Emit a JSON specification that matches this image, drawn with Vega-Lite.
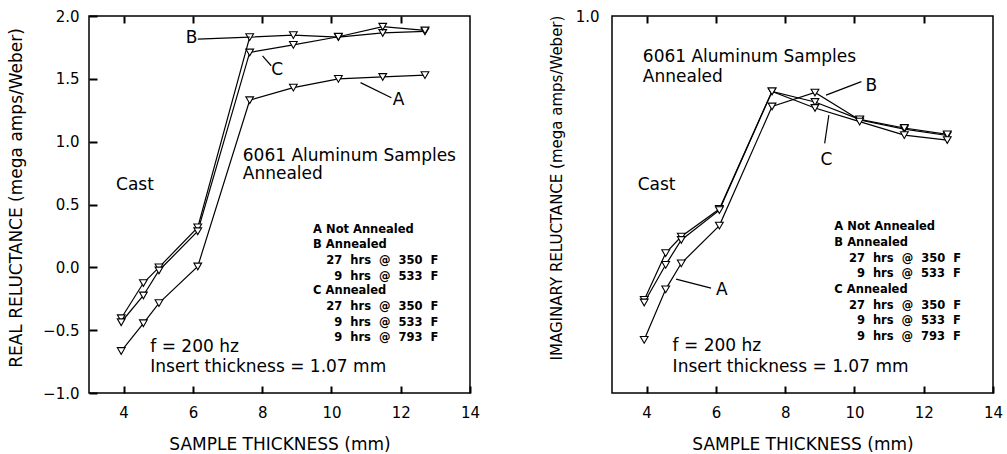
{
  "$schema": "https://vega.github.io/schema/vega-lite/v6.json",
  "background": "white",
  "padding": {"left": 6, "top": 8, "right": 5, "bottom": 0},
  "bounds": "flush",
  "spacing": 142,
  "config": {
    "font": "DejaVu Sans",
    "view": {"stroke": "black", "strokeWidth": 1.5},
    "axis": {
      "labelFont": "DejaVu Sans", "titleFont": "DejaVu Sans",
      "labelFontSize": 15, "titleFontSize": 17, "titleFontWeight": "normal",
      "labelColor": "black", "titleColor": "black",
      "grid": false, "domain": false,
      "labelFlush": false, "labelOverlap": false
    }
  },
  "datasets": {
    "real": [
      {"s": "A", "x": 3.93, "y": -0.666}, {"s": "A", "x": 4.57, "y": -0.445}, {"s": "A", "x": 5.02, "y": -0.285}, {"s": "A", "x": 6.14, "y": 0.007}, {"s": "A", "x": 7.64, "y": 1.33}, {"s": "A", "x": 8.9, "y": 1.43}, {"s": "A", "x": 10.2, "y": 1.5}, {"s": "A", "x": 11.48, "y": 1.515}, {"s": "A", "x": 12.7, "y": 1.53},
      {"s": "B", "x": 3.93, "y": -0.405}, {"s": "B", "x": 4.57, "y": -0.125}, {"s": "B", "x": 5.02, "y": 0.0}, {"s": "B", "x": 6.14, "y": 0.318}, {"s": "B", "x": 7.64, "y": 1.832}, {"s": "B", "x": 8.9, "y": 1.848}, {"s": "B", "x": 10.2, "y": 1.832}, {"s": "B", "x": 11.48, "y": 1.865}, {"s": "B", "x": 12.7, "y": 1.878},
      {"s": "C", "x": 3.93, "y": -0.437}, {"s": "C", "x": 4.57, "y": -0.224}, {"s": "C", "x": 5.02, "y": -0.025}, {"s": "C", "x": 6.14, "y": 0.287}, {"s": "C", "x": 7.64, "y": 1.71}, {"s": "C", "x": 8.9, "y": 1.77}, {"s": "C", "x": 10.2, "y": 1.835}, {"s": "C", "x": 11.48, "y": 1.915}, {"s": "C", "x": 12.7, "y": 1.885}
    ],
    "imag": [
      {"s": "A", "x": 3.93, "y": 0.141}, {"s": "A", "x": 4.55, "y": 0.275}, {"s": "A", "x": 5.0, "y": 0.344}, {"s": "A", "x": 6.1, "y": 0.444}, {"s": "A", "x": 7.62, "y": 0.76}, {"s": "A", "x": 8.86, "y": 0.797}, {"s": "A", "x": 10.15, "y": 0.724}, {"s": "A", "x": 11.44, "y": 0.7}, {"s": "A", "x": 12.68, "y": 0.683},
      {"s": "B", "x": 3.93, "y": 0.247}, {"s": "B", "x": 4.55, "y": 0.371}, {"s": "B", "x": 5.0, "y": 0.415}, {"s": "B", "x": 6.1, "y": 0.488}, {"s": "B", "x": 7.62, "y": 0.8}, {"s": "B", "x": 8.86, "y": 0.772}, {"s": "B", "x": 10.15, "y": 0.726}, {"s": "B", "x": 11.44, "y": 0.703}, {"s": "B", "x": 12.68, "y": 0.686},
      {"s": "C", "x": 3.93, "y": 0.24}, {"s": "C", "x": 4.55, "y": 0.34}, {"s": "C", "x": 5.0, "y": 0.406}, {"s": "C", "x": 6.1, "y": 0.485}, {"s": "C", "x": 7.62, "y": 0.8}, {"s": "C", "x": 8.86, "y": 0.756}, {"s": "C", "x": 10.15, "y": 0.72}, {"s": "C", "x": 11.44, "y": 0.684}, {"s": "C", "x": 12.68, "y": 0.671}
    ],
    "realLeaders": [
      {"id": "B", "x": 6.14, "y": 1.816}, {"id": "B", "x": 7.64, "y": 1.832},
      {"id": "C", "x": 8.01, "y": 1.683}, {"id": "C", "x": 8.26, "y": 1.604},
      {"id": "A", "x": 10.84, "y": 1.47}, {"id": "A", "x": 11.73, "y": 1.35}
    ],
    "imagLeaders": [
      {"id": "B", "x": 9.18, "y": 0.79}, {"id": "B", "x": 10.2, "y": 0.826},
      {"id": "C", "x": 9.26, "y": 0.737}, {"id": "C", "x": 9.14, "y": 0.662},
      {"id": "A", "x": 4.85, "y": 0.302}, {"id": "A", "x": 5.86, "y": 0.278}
    ],
    "realNotes": [
      {"x": 7.44, "y": 0.885, "t": "6061 Aluminum Samples"},
      {"x": 7.44, "y": 0.74, "t": "Annealed"},
      {"x": 3.78, "y": 0.654, "t": "Cast"},
      {"x": 4.77, "y": -0.63, "t": "f = 200 hz"},
      {"x": 4.77, "y": -0.796, "t": "Insert thickness = 1.07 mm"}
    ],
    "imagNotes": [
      {"x": 3.89, "y": 0.89, "t": "6061 Aluminum Samples"},
      {"x": 3.89, "y": 0.839, "t": "Annealed"},
      {"x": 3.74, "y": 0.552, "t": "Cast"},
      {"x": 4.75, "y": 0.1255, "t": "f = 200 hz"},
      {"x": 4.75, "y": 0.07, "t": "Insert thickness = 1.07 mm"}
    ],
    "realLetters": [
      {"x": 5.96, "y": 1.823, "t": "B"},
      {"x": 8.43, "y": 1.569, "t": "C"},
      {"x": 11.94, "y": 1.33, "t": "A"}
    ],
    "imagLetters": [
      {"x": 10.49, "y": 0.814, "t": "B"},
      {"x": 9.19, "y": 0.617, "t": "C"},
      {"x": 6.17, "y": 0.274, "t": "A"}
    ],
    "realLegend": [
      {"x": 9.47, "y": 0.3, "t": "A Not Annealed"},
      {"x": 9.47, "y": 0.175, "t": "B Annealed"},
      {"x": 9.85, "y": 0.053, "t": "27\u00a0 hrs\u00a0 @\u00a0 350\u00a0 F"},
      {"x": 10.08, "y": -0.073, "t": "9\u00a0 hrs\u00a0 @\u00a0 533\u00a0 F"},
      {"x": 9.47, "y": -0.19, "t": "C Annealed"},
      {"x": 9.85, "y": -0.317, "t": "27\u00a0 hrs\u00a0 @\u00a0 350\u00a0 F"},
      {"x": 10.08, "y": -0.44, "t": "9\u00a0 hrs\u00a0 @\u00a0 533\u00a0 F"},
      {"x": 10.08, "y": -0.565, "t": "9\u00a0 hrs\u00a0 @\u00a0 793\u00a0 F"}
    ],
    "imagLegend": [
      {"x": 9.42, "y": 0.44, "t": "A Not Annealed"},
      {"x": 9.42, "y": 0.397, "t": "B Annealed"},
      {"x": 9.84, "y": 0.355, "t": "27\u00a0 hrs\u00a0 @\u00a0 350\u00a0 F"},
      {"x": 10.07, "y": 0.315, "t": "9\u00a0 hrs\u00a0 @\u00a0 533\u00a0 F"},
      {"x": 9.42, "y": 0.273, "t": "C Annealed"},
      {"x": 9.84, "y": 0.232, "t": "27\u00a0 hrs\u00a0 @\u00a0 350\u00a0 F"},
      {"x": 10.07, "y": 0.191, "t": "9\u00a0 hrs\u00a0 @\u00a0 533\u00a0 F"},
      {"x": 10.07, "y": 0.149, "t": "9\u00a0 hrs\u00a0 @\u00a0 793\u00a0 F"}
    ]
  },
  "hconcat": [
    {
      "width": 381,
      "height": 377,
      "resolve": {"axis": {"x": "independent", "y": "independent"}},
      "layer": [
        {
          "data": {"name": "real"},
          "mark": {"type": "line", "color": "black", "strokeWidth": 1.2},
          "encoding": {
            "x": {"field": "x", "type": "quantitative", "scale": {"domain": [3, 14], "nice": false, "zero": false},
              "axis": {"orient": "bottom", "values": [4, 6, 8, 10, 12, 14], "offset": -7, "ticks": true, "tickSize": 7, "tickWidth": 2, "tickColor": "black", "labelPadding": 12.5,
                "title": "SAMPLE THICKNESS (mm)", "titleY": 58, "titleBaseline": "middle"}},
            "y": {"field": "y", "type": "quantitative", "scale": {"domain": [-1, 2], "nice": false, "zero": false},
              "axis": {"values": [-1, -0.5, 0, 0.5, 1, 1.5, 2], "format": ".1f", "offset": -8, "ticks": true, "tickSize": 8, "tickWidth": 2, "tickColor": "black", "labelPadding": 10,
                "title": "REAL RELUCTANCE (mega amps/Weber)", "titleX": -81, "titleY": 181.5, "titleBaseline": "middle"}},
            "detail": {"field": "s"}
          }
        },
        {
          "data": {"name": "real"},
          "mark": {"type": "point", "shape": "triangle-down", "filled": true, "fill": "white", "stroke": "black", "strokeWidth": 1.1, "size": 60, "opacity": 1},
          "encoding": {
            "x": {"field": "x", "type": "quantitative", "scale": {"domain": [3, 14], "nice": false, "zero": false},
              "axis": {"orient": "top", "values": [4, 6, 8, 10, 12], "offset": -7, "ticks": true, "tickSize": 7, "tickWidth": 2, "tickColor": "black", "labels": false, "title": null}},
            "y": {"field": "y", "type": "quantitative", "scale": {"domain": [-1, 2], "nice": false, "zero": false}, "axis": null}
          }
        },
        {
          "data": {"name": "realLeaders"},
          "mark": {"type": "line", "color": "black", "strokeWidth": 1.2},
          "encoding": {
            "x": {"field": "x", "type": "quantitative", "scale": {"domain": [3, 14], "nice": false, "zero": false}, "axis": null},
            "y": {"field": "y", "type": "quantitative", "scale": {"domain": [-1, 2], "nice": false, "zero": false}, "axis": null},
            "detail": {"field": "id"}
          }
        },
        {
          "data": {"name": "realNotes"},
          "mark": {"type": "text", "align": "left", "baseline": "middle", "fontSize": 17, "font": "DejaVu Sans", "color": "black"},
          "encoding": {
            "x": {"field": "x", "type": "quantitative", "scale": {"domain": [3, 14], "nice": false, "zero": false}, "axis": null},
            "y": {"field": "y", "type": "quantitative", "scale": {"domain": [-1, 2], "nice": false, "zero": false}, "axis": null},
            "text": {"field": "t"}
          }
        },
        {
          "data": {"name": "realLetters"},
          "mark": {"type": "text", "align": "center", "baseline": "middle", "fontSize": 17, "font": "DejaVu Sans", "color": "black"},
          "encoding": {
            "x": {"field": "x", "type": "quantitative", "scale": {"domain": [3, 14], "nice": false, "zero": false}, "axis": null},
            "y": {"field": "y", "type": "quantitative", "scale": {"domain": [-1, 2], "nice": false, "zero": false}, "axis": null},
            "text": {"field": "t"}
          }
        },
        {
          "data": {"name": "realLegend"},
          "mark": {"type": "text", "align": "left", "baseline": "middle", "fontSize": 11.5, "fontWeight": "bold", "font": "DejaVu Sans", "color": "black"},
          "encoding": {
            "x": {"field": "x", "type": "quantitative", "scale": {"domain": [3, 14], "nice": false, "zero": false}, "axis": null},
            "y": {"field": "y", "type": "quantitative", "scale": {"domain": [-1, 2], "nice": false, "zero": false}, "axis": null},
            "text": {"field": "t"}
          }
        }
      ]
    },
    {
      "width": 381,
      "height": 377,
      "resolve": {"axis": {"x": "independent", "y": "independent"}},
      "layer": [
        {
          "data": {"name": "imag"},
          "mark": {"type": "line", "color": "black", "strokeWidth": 1.2},
          "encoding": {
            "x": {"field": "x", "type": "quantitative", "scale": {"domain": [3, 14], "nice": false, "zero": false},
              "axis": {"orient": "bottom", "values": [4, 6, 8, 10, 12, 14], "offset": -7, "ticks": true, "tickSize": 7, "tickWidth": 2, "tickColor": "black", "labelPadding": 12.5,
                "title": "SAMPLE THICKNESS (mm)", "titleY": 58, "titleBaseline": "middle"}},
            "y": {"field": "y", "type": "quantitative", "scale": {"domain": [0, 1], "nice": false, "zero": false},
              "axis": {"values": [1], "format": ".1f", "ticks": false, "labelPadding": 13, "titleFontSize": 15,
                "title": "IMAGINARY RELUCTANCE (mega amps/Weber)", "titleX": -56, "titleY": 171.5, "titleBaseline": "middle"}},
            "detail": {"field": "s"}
          }
        },
        {
          "data": {"name": "imag"},
          "mark": {"type": "point", "shape": "triangle-down", "filled": true, "fill": "white", "stroke": "black", "strokeWidth": 1.1, "size": 60, "opacity": 1},
          "encoding": {
            "x": {"field": "x", "type": "quantitative", "scale": {"domain": [3, 14], "nice": false, "zero": false},
              "axis": {"orient": "top", "values": [4, 6, 8, 10, 12], "offset": -7, "ticks": true, "tickSize": 7, "tickWidth": 2, "tickColor": "black", "labels": false, "title": null}},
            "y": {"field": "y", "type": "quantitative", "scale": {"domain": [0, 1], "nice": false, "zero": false}, "axis": null}
          }
        },
        {
          "data": {"name": "imagLeaders"},
          "mark": {"type": "line", "color": "black", "strokeWidth": 1.2},
          "encoding": {
            "x": {"field": "x", "type": "quantitative", "scale": {"domain": [3, 14], "nice": false, "zero": false}, "axis": null},
            "y": {"field": "y", "type": "quantitative", "scale": {"domain": [0, 1], "nice": false, "zero": false}, "axis": null},
            "detail": {"field": "id"}
          }
        },
        {
          "data": {"name": "imagNotes"},
          "mark": {"type": "text", "align": "left", "baseline": "middle", "fontSize": 17, "font": "DejaVu Sans", "color": "black"},
          "encoding": {
            "x": {"field": "x", "type": "quantitative", "scale": {"domain": [3, 14], "nice": false, "zero": false}, "axis": null},
            "y": {"field": "y", "type": "quantitative", "scale": {"domain": [0, 1], "nice": false, "zero": false}, "axis": null},
            "text": {"field": "t"}
          }
        },
        {
          "data": {"name": "imagLetters"},
          "mark": {"type": "text", "align": "center", "baseline": "middle", "fontSize": 17, "font": "DejaVu Sans", "color": "black"},
          "encoding": {
            "x": {"field": "x", "type": "quantitative", "scale": {"domain": [3, 14], "nice": false, "zero": false}, "axis": null},
            "y": {"field": "y", "type": "quantitative", "scale": {"domain": [0, 1], "nice": false, "zero": false}, "axis": null},
            "text": {"field": "t"}
          }
        },
        {
          "data": {"name": "imagLegend"},
          "mark": {"type": "text", "align": "left", "baseline": "middle", "fontSize": 11.5, "fontWeight": "bold", "font": "DejaVu Sans", "color": "black"},
          "encoding": {
            "x": {"field": "x", "type": "quantitative", "scale": {"domain": [3, 14], "nice": false, "zero": false}, "axis": null},
            "y": {"field": "y", "type": "quantitative", "scale": {"domain": [0, 1], "nice": false, "zero": false}, "axis": null},
            "text": {"field": "t"}
          }
        }
      ]
    }
  ]
}
